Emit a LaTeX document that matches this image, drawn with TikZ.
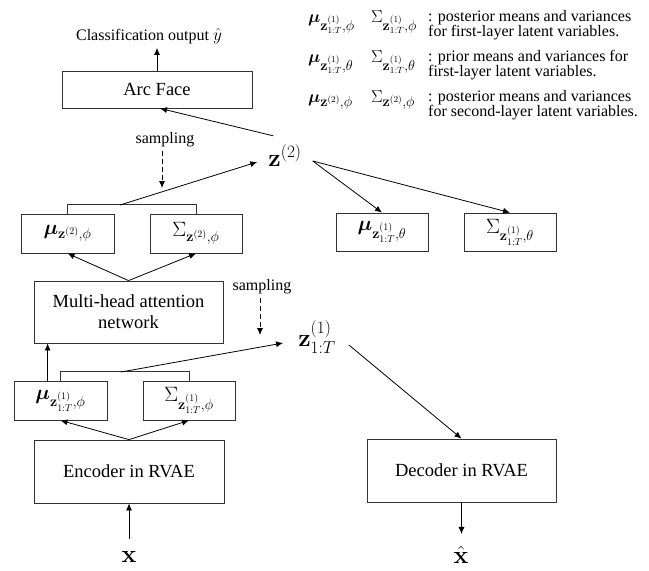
\documentclass[tikz,border=0pt]{standalone}
\usepackage[no-math]{fontspec}
\setmainfont{Liberation Serif}
\usepackage{amsmath,bm}
\usetikzlibrary{arrows.meta,calc}

\begin{document}
\begin{tikzpicture}[x=1pt,y=-1pt,
  box/.style={draw=black!80, line width=0.8pt, inner sep=0pt, align=center,
    font=\fontsize{18.5}{21}\selectfont},
  mathbox/.style={box, font=\fontsize{20}{22}\selectfont},
  arr/.style={-{Latex[length=7pt,width=6pt]}, line width=0.8pt},
  dsh/.style={arr, dash pattern=on 5pt off 3pt},
  lbl/.style={inner sep=0pt, font=\fontsize{16}{18}\selectfont},
  legmath/.style={inner sep=0pt, anchor=base west, font=\fontsize{19}{21}\selectfont},
  legtext/.style={inner sep=0pt, anchor=north west, align=left, font=\fontsize{16}{15}\selectfont},
  bigmath/.style={font=\fontsize{23}{26}\selectfont}
]
\useasboundingbox (0,0) rectangle (649,571);

% ---- legend ----
\node[legmath] (lg1a) at (308,22) {$\bm{\mu}_{\mathbf{z}^{(1)}_{1:T},\phi}$};
\node[legmath] (lg1b) at (371,22) {$\Sigma_{\mathbf{z}^{(1)}_{1:T},\phi}$};
\node[legtext] (lg1c) at (428,10) {: posterior means and variances\\for first-layer latent variables.};
\node[legmath] (lg2a) at (308,62) {$\bm{\mu}_{\mathbf{z}^{(1)}_{1:T},\theta}$};
\node[legmath] (lg2b) at (371,62) {$\Sigma_{\mathbf{z}^{(1)}_{1:T},\theta}$};
\node[legtext] (lg2c) at (428,50) {: prior means and variances for\\first-layer latent variables.};
\node[legmath] (lg3a) at (308,102) {$\bm{\mu}_{\mathbf{z}^{(2)},\phi}$};
\node[legmath] (lg3b) at (371,102) {$\Sigma_{\mathbf{z}^{(2)},\phi}$};
\node[legtext] (lg3c) at (428,90) {: posterior means and variances\\for second-layer latent variables.};

% ---- classification head ----
\node[lbl] (cls) at (149,36) {Classification output $\hat{y}$};
\node[box, minimum width=190, minimum height=37] (arc) at (157,89.5) {Arc Face};
\draw[arr, shorten >=4pt] (arc.north) -- (arc.north |- cls.south);

% ---- second-layer latent ----
\node[bigmath, inner xsep=11pt, inner ysep=9pt] (z2) at (285,156) {$\mathbf{z}^{(2)}$};
\node[lbl] (samp2) at (165,140) {sampling};
\node[mathbox, minimum width=93, minimum height=39] (muz2) at (67.5,233.5) {$\bm{\mu}_{\mathbf{z}^{(2)},\phi}$};
\node[mathbox, minimum width=92, minimum height=39] (sigz2) at (196,233.5) {$\Sigma_{\mathbf{z}^{(2)},\phi}$};
\node[mathbox, minimum width=92, minimum height=38] (mut) at (382,232) {$\bm{\mu}_{\mathbf{z}^{(1)}_{1:T},\theta}$};
\node[mathbox, minimum width=92, minimum height=38] (sigt) at (510,232) {$\Sigma_{\mathbf{z}^{(1)}_{1:T},\theta}$};

\coordinate (b2) at (120,205);
\coordinate (s2tip) at (162,188);
\draw[line width=0.8pt, draw=black!80] (muz2.north) -- ++(0,-9) -| (sigz2.north);
\draw[arr] (b2) -- ([yshift=-6pt]z2.west);
\draw[dsh] ([yshift=-4pt]samp2.south -| s2tip) -- (s2tip);
\draw[arr] ([xshift=16pt]z2.north west) -- ([xshift=3pt]arc.south);
\draw[arr] ([yshift=-5pt]z2.east) -- (mut.north);
\draw[arr] ([yshift=-5pt]z2.east) -- (sigt.north);

% ---- attention network ----
\node[box, minimum width=189, minimum height=62] (mha) at (128.5,312) {Multi-head attention\\network};
\draw[arr] (mha.north) -- (muz2.south);
\draw[arr] (mha.north) -- (sigz2.south);

% ---- first-layer latent ----
\node[bigmath, inner xsep=13pt, inner ysep=3pt] (z1) at (317,337) {$\mathbf{z}^{(1)}_{1:T}$};
\node[lbl] (samp1) at (262,287) {sampling};
\node[mathbox, minimum width=93, minimum height=39] (mu1) at (60.5,400.5) {$\bm{\mu}_{\mathbf{z}^{(1)}_{1:T},\phi}$};
\node[mathbox, minimum width=92, minimum height=39] (sig1) at (189,400.5) {$\Sigma_{\mathbf{z}^{(1)}_{1:T},\phi}$};

\coordinate (b1) at (121,372);
\coordinate (s1tip) at (260,335);
\draw[line width=0.8pt, draw=black!80] (mu1.north) -- ++(0,-9) -| (sig1.north);
\draw[arr] (b1) -- ([xshift=-2pt,yshift=-6pt]z1.west);
\draw[dsh] ([yshift=-4pt]samp1.south -| s1tip) -- (s1tip);
\draw[arr] ([xshift=34pt]mu1.north west) -- ([xshift=34pt]mu1.north west |- mha.south);

% ---- encoder / decoder ----
\node[box, minimum width=190, minimum height=63] (enc) at (129,471.5) {Encoder in RVAE};
\node[box, minimum width=189, minimum height=63] (dec) at (461.5,470.5) {Decoder in RVAE};
\node[inner sep=0pt, font=\fontsize{27}{30}\selectfont] (x) at (129,557) {$\mathbf{x}$};
\node[inner sep=0pt, font=\fontsize{27}{30}\selectfont] (xh) at (461,555) {$\hat{\mathbf{x}}$};

\draw[arr] (enc.north) -- (mu1.south);
\draw[arr] (enc.north) -- (sig1.south);
\draw[arr, shorten <=12pt] (x.north) -- (enc.south);
\draw[arr] ([yshift=-8pt]z1.east) -- (dec.north);
\draw[arr, shorten >=12pt] (dec.south) -- (dec.south |- xh.north);
\end{tikzpicture}
\end{document}
